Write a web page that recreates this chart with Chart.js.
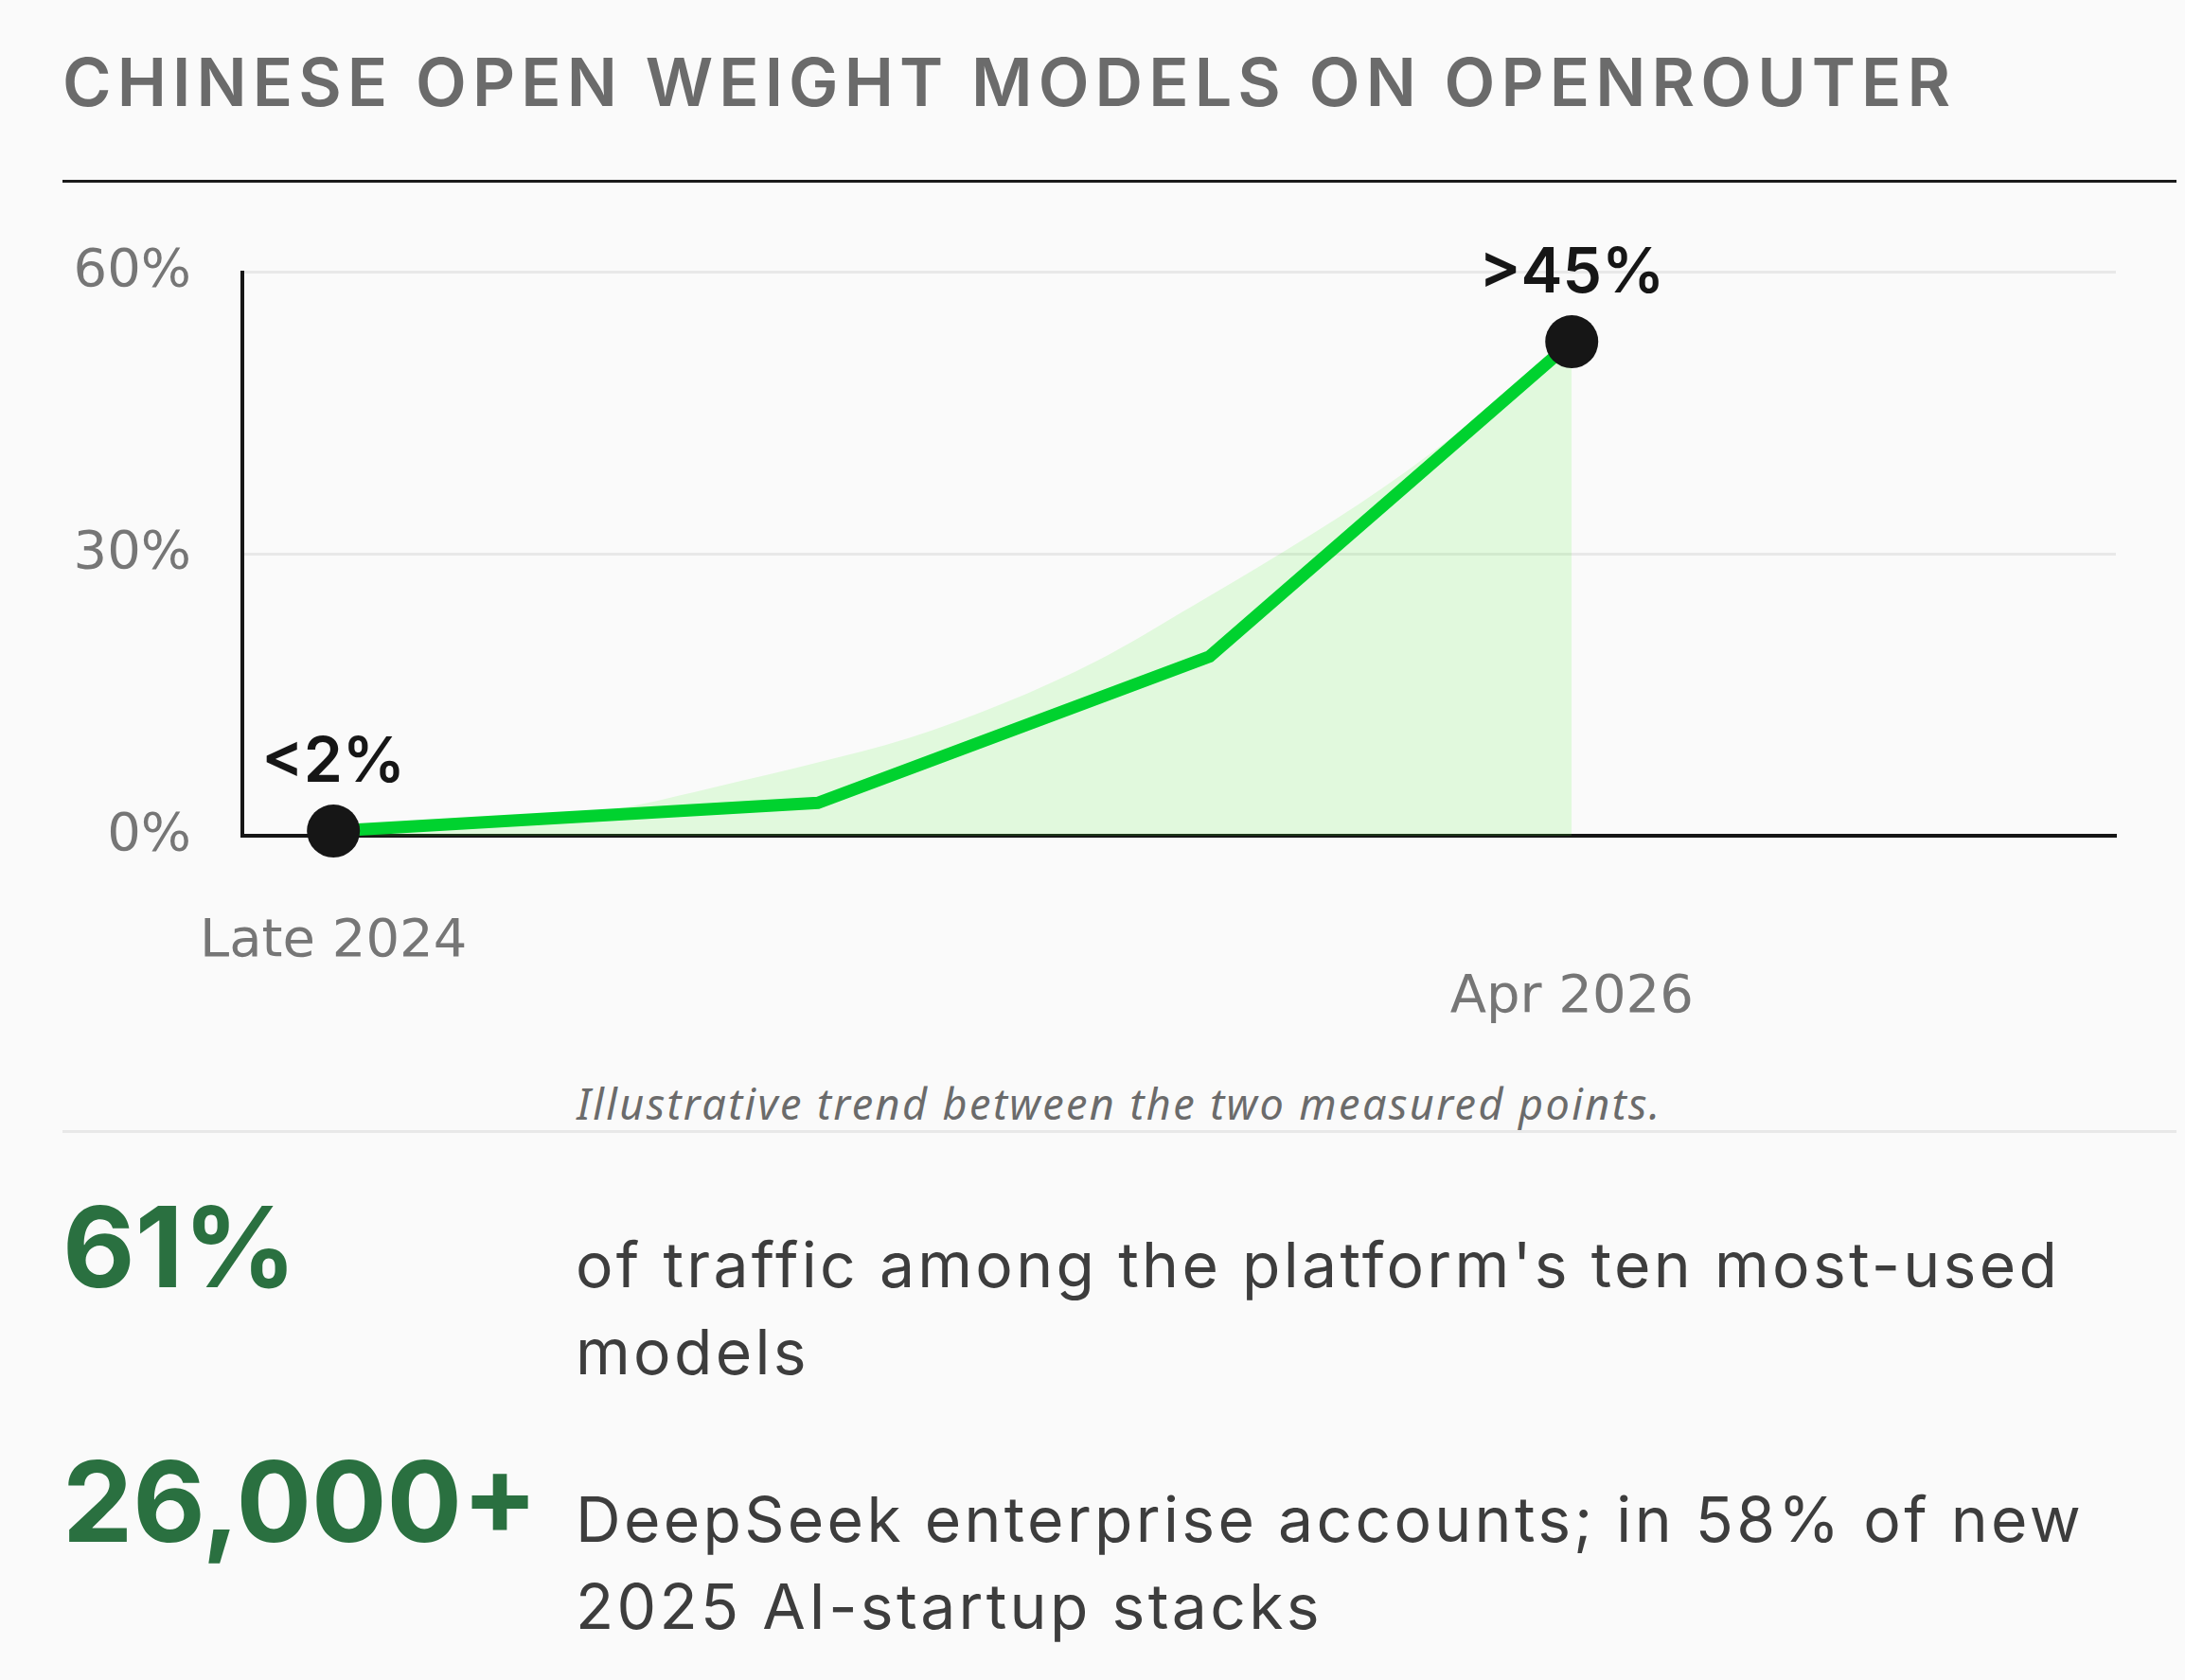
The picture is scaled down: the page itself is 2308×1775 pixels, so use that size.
<!DOCTYPE html>
<html>
<head>
<meta charset="utf-8">
<script src="https://cdn.jsdelivr.net/npm/chart.js@4.4.1/dist/chart.umd.min.js"></script>
<style>
  body { margin: 0; background: #fafafa; width: 2308px; height: 1775px; position: relative; overflow: hidden; }
  .title { position: absolute; left: 66px; top: 52px; margin: 0; font: 600 70px/70px Inter, sans-serif; letter-spacing: 6.1px; color: #6b6b6b; white-space: nowrap; }
  .rule { position: absolute; left: 66px; top: 190px; width: 2233px; height: 3px; background: #1a1a1a; }
  .chart-box { position: absolute; left: 66px; top: 200px; width: 2233px; height: 900px; }
  .note { position: absolute; left: 66px; top: 1143px; width: 2233px; text-align: center; font: italic 400 45px/45px "Noto Sans", sans-serif; letter-spacing: 2.4px; color: #6b6b6b; }
  .sep { position: absolute; left: 66px; top: 1194px; width: 2233px; height: 3px; background: #e8e8e8; }
  .num { position: absolute; left: 66px; font: 700 118px/118px Inter, sans-serif; color: #2a7040; white-space: nowrap; }
  .desc { position: absolute; left: 608px; font: 400 66px/92px Inter, sans-serif; letter-spacing: 3.3px; color: #3d3d3d; white-space: nowrap; }
</style>
</head>
<body>
<h1 class="title">CHINESE OPEN WEIGHT MODELS ON OPENROUTER</h1>
<div class="rule"></div>
<div class="chart-box"><canvas id="shareChart"></canvas></div>
<div class="note">Illustrative trend between the two measured points.</div>
<div class="sep"></div>
<div class="num" style="top:1258px">61%</div>
<div class="desc" style="top:1290px">of traffic among the platform's ten most-used<br>models</div>
<div class="num" style="top:1527px">26,000+</div>
<div class="desc" style="top:1559px">DeepSeek enterprise accounts; in 58% of new<br>2025 AI-startup stacks</div>

<script>
// months after late 2024
const trendMonths = [0, 6.65, 12.03, 17];
const trendShare = [0.5, 3.5, 19.1, 52.6];
const pointLabels = ['<2%', '', '', '>45%'];

// smooth illustrative curve under the line
const curveMonths = [0, 1.9, 3.9, 5.3, 6.6, 7.9, 9.2, 10.5, 11.8, 13.1, 14.4, 15.7, 17];
const curveShare = [0.5, 1.3, 2.9, 5.3, 7.7, 10.4, 14.1, 18.7, 24.5, 30.5, 37, 44.5, 52.6];

const xTickValues = [0, 17];
const xTickLabels = [['Late 2024'], ['', 'Apr 2026']];
const yTickValues = [0, 30, 60];

const toPoints = (xs, ys) => xs.map((x, i) => ({ x: x, y: ys[i] }));

// draws the "<2%" / ">45%" labels above the dots
const pointLabelPlugin = {
    id: 'pointLabels',
    afterDatasetsDraw(chart) {
        const meta = chart.getDatasetMeta(0);
        const ctx = chart.ctx;
        ctx.save();
        ctx.font = '600 66px Inter, sans-serif';
        ctx.fillStyle = '#161616';
        ctx.textAlign = 'center';
        ctx.textBaseline = 'alphabetic';
        meta.data.forEach((pt, i) => {
            if (pointLabels[i]) ctx.fillText(pointLabels[i], pt.x, pt.y - 52);
        });
        ctx.restore();
    }
};

const tickFont = { family: '"DejaVu Sans", sans-serif', size: 56 };

new Chart(document.getElementById('shareChart').getContext('2d'), {
    type: 'line',
    data: {
        datasets: [{
            data: toPoints(trendMonths, trendShare),
            borderColor: '#00d22f',
            borderWidth: 13,
            pointRadius: trendShare.map((v, i) => pointLabels[i] ? 28 : 0),
            pointBackgroundColor: '#161616',
            pointBorderWidth: 0,
            fill: false,
            clip: false
        }, {
            data: toPoints(curveMonths, curveShare),
            borderWidth: 0,
            pointRadius: 0,
            backgroundColor: 'rgba(80, 245, 50, 0.14)',
            fill: 'origin',
            cubicInterpolationMode: 'monotone'
        }]
    },
    options: {
        responsive: true,
        maintainAspectRatio: false,
        animation: false,
        events: [],
        layout: { padding: { top: 77, right: 64, left: 0, bottom: 0 } },
        plugins: { legend: { display: false }, tooltip: { enabled: false } },
        scales: {
            x: {
                type: 'linear',
                min: -1.25,
                max: 24.47,
                grid: { display: false, drawTicks: false },
                border: { display: true, color: '#161616', width: 4 },
                afterBuildTicks: (scale) => { scale.ticks = xTickValues.map(v => ({ value: v })); },
                afterFit: (scale) => { scale.height = 217; },
                ticks: {
                    font: { ...tickFont, lineHeight: 1.05 },
                    color: '#767676',
                    padding: 83,
                    maxRotation: 0,
                    autoSkip: false,
                    callback: (v) => xTickLabels[xTickValues.indexOf(v)]
                }
            },
            y: {
                min: 0,
                max: 60,
                grid: {
                    color: (c) => c.tick && c.tick.value === 0 ? 'rgba(0,0,0,0)' : '#e8e8e8',
                    lineWidth: 3,
                    drawTicks: false
                },
                border: { display: true, color: '#161616', width: 4 },
                afterBuildTicks: (scale) => { scale.ticks = yTickValues.map(v => ({ value: v })); },
                afterFit: (scale) => { scale.width = 190; },
                ticks: {
                    font: tickFont,
                    color: '#767676',
                    padding: 54,
                    callback: (v) => v + '%'
                }
            }
        }
    },
    plugins: [pointLabelPlugin]
});
</script>
</body>
</html>
